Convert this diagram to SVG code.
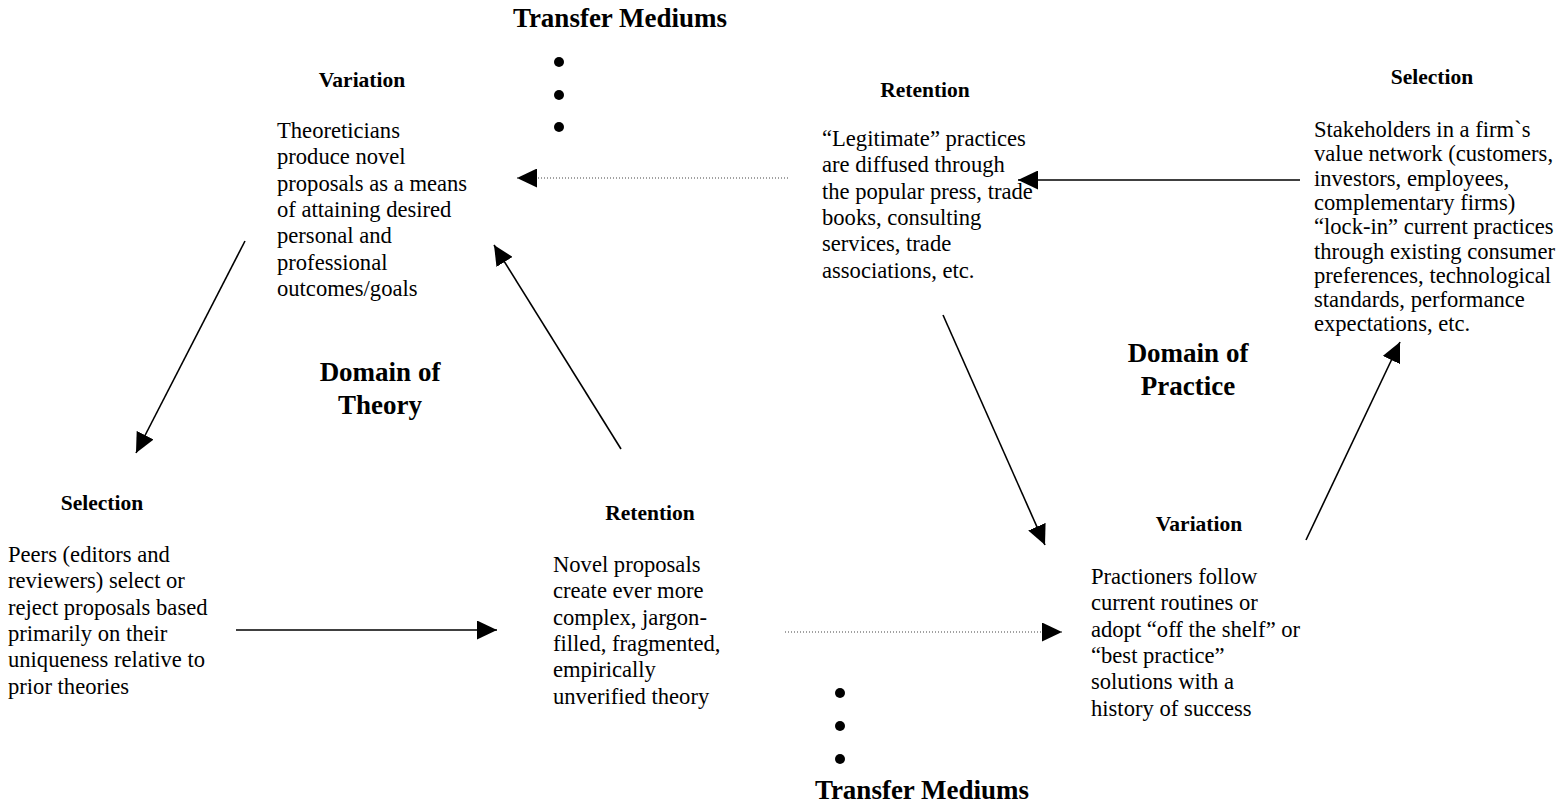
<svg xmlns="http://www.w3.org/2000/svg" width="1568" height="806" viewBox="0 0 1568 806">
  <defs>
    <marker id="head" markerUnits="userSpaceOnUse" markerWidth="20" markerHeight="19" refX="20" refY="9.5" orient="auto">
      <path d="M0,0 L20,9.5 L0,19 z" fill="#000"/>
    </marker>
    <style>
      text { font-family: "Liberation Serif", "Times New Roman", serif; fill: #000; }
      .body { font-size: 22.6px; }
      .head { font-size: 21.5px; font-weight: bold; text-anchor: middle; }
      .domain { font-size: 27px; font-weight: bold; text-anchor: middle; }
      .medium { font-size: 27px; font-weight: bold; text-anchor: middle; }
      .solid { stroke: #000; stroke-width: 1.6; fill: none; marker-end: url(#head); }
      .dotted { stroke: #444; stroke-width: 1.1; stroke-dasharray: 1 2; fill: none; marker-end: url(#head); }
    </style>
  </defs>
  <rect width="1568" height="806" fill="#fff"/>

  <!-- transfer mediums, top -->
  <g id="transfer-top">
    <text class="medium" x="620" y="27">Transfer Mediums</text>
    <circle cx="559" cy="62" r="5"/>
    <circle cx="559" cy="95" r="5"/>
    <circle cx="559" cy="127" r="5"/>
  </g>

  <!-- transfer mediums, bottom -->
  <g id="transfer-bottom">
    <circle cx="840" cy="693" r="5"/>
    <circle cx="840" cy="726" r="5"/>
    <circle cx="840" cy="759" r="5"/>
    <text class="medium" x="922" y="799">Transfer Mediums</text>
  </g>

  <!-- domain labels -->
  <g id="domain-theory">
    <text class="domain" x="380" y="381">Domain of</text>
    <text class="domain" x="380" y="414">Theory</text>
  </g>
  <g id="domain-practice">
    <text class="domain" x="1188" y="362">Domain of</text>
    <text class="domain" x="1188" y="395">Practice</text>
  </g>

  <!-- theory: variation -->
  <g id="theory-variation">
    <text class="head" x="362" y="87">Variation</text>
    <text class="body">
      <tspan x="277" y="138">Theoreticians</tspan>
      <tspan x="277" y="164.3">produce novel</tspan>
      <tspan x="277" y="190.6">proposals as a means</tspan>
      <tspan x="277" y="216.9">of attaining desired</tspan>
      <tspan x="277" y="243.2">personal and</tspan>
      <tspan x="277" y="269.5">professional</tspan>
      <tspan x="277" y="295.8">outcomes/goals</tspan>
    </text>
  </g>

  <!-- theory: selection -->
  <g id="theory-selection">
    <text class="head" x="102" y="510">Selection</text>
    <text class="body">
      <tspan x="8" y="562">Peers (editors and</tspan>
      <tspan x="8" y="588.3">reviewers) select or</tspan>
      <tspan x="8" y="614.6">reject proposals based</tspan>
      <tspan x="8" y="640.9">primarily on their</tspan>
      <tspan x="8" y="667.2">uniqueness relative to</tspan>
      <tspan x="8" y="693.5">prior theories</tspan>
    </text>
  </g>

  <!-- theory: retention -->
  <g id="theory-retention">
    <text class="head" x="650" y="520">Retention</text>
    <text class="body">
      <tspan x="553" y="572">Novel proposals</tspan>
      <tspan x="553" y="598.3">create ever more</tspan>
      <tspan x="553" y="624.6">complex, jargon-</tspan>
      <tspan x="553" y="650.9">filled, fragmented,</tspan>
      <tspan x="553" y="677.2">empirically</tspan>
      <tspan x="553" y="703.5">unverified theory</tspan>
    </text>
  </g>

  <!-- practice: retention -->
  <g id="practice-retention">
    <text class="head" x="925" y="97">Retention</text>
    <text class="body">
      <tspan x="822" y="146">“Legitimate” practices</tspan>
      <tspan x="822" y="172.3">are diffused through</tspan>
      <tspan x="822" y="198.6">the popular press, trade</tspan>
      <tspan x="822" y="224.9">books, consulting</tspan>
      <tspan x="822" y="251.2">services, trade</tspan>
      <tspan x="822" y="277.5">associations, etc.</tspan>
    </text>
  </g>

  <!-- practice: selection -->
  <g id="practice-selection">
    <text class="head" x="1432" y="84">Selection</text>
    <text class="body">
      <tspan x="1314" y="137">Stakeholders in a firm`s</tspan>
      <tspan x="1314" y="161.3">value network (customers,</tspan>
      <tspan x="1314" y="185.6">investors, employees,</tspan>
      <tspan x="1314" y="209.9">complementary firms)</tspan>
      <tspan x="1314" y="234.2">“lock-in” current practices</tspan>
      <tspan x="1314" y="258.5">through existing consumer</tspan>
      <tspan x="1314" y="282.8">preferences, technological</tspan>
      <tspan x="1314" y="307.1">standards, performance</tspan>
      <tspan x="1314" y="331.4">expectations, etc.</tspan>
    </text>
  </g>

  <!-- practice: variation -->
  <g id="practice-variation">
    <text class="head" x="1199" y="531">Variation</text>
    <text class="body">
      <tspan x="1091" y="584">Practioners follow</tspan>
      <tspan x="1091" y="610.3">current routines or</tspan>
      <tspan x="1091" y="636.6">adopt “off the shelf” or</tspan>
      <tspan x="1091" y="662.9">“best practice”</tspan>
      <tspan x="1091" y="689.2">solutions with a</tspan>
      <tspan x="1091" y="715.5">history of success</tspan>
    </text>
  </g>

  <!-- connectors -->
  <g id="connectors">
    <line class="solid" x1="245" y1="241" x2="136" y2="453"/>
    <line class="solid" x1="236" y1="630" x2="497" y2="630"/>
    <line class="solid" x1="621" y1="449" x2="494" y2="245"/>
    <line class="dotted" x1="785" y1="632" x2="1062" y2="632"/>
    <line class="dotted" x1="788" y1="178" x2="517" y2="178"/>
    <line class="solid" x1="1300" y1="180" x2="1018" y2="180"/>
    <line class="solid" x1="943" y1="315" x2="1045" y2="545"/>
    <line class="solid" x1="1306" y1="540" x2="1400" y2="342"/>
  </g>
</svg>
